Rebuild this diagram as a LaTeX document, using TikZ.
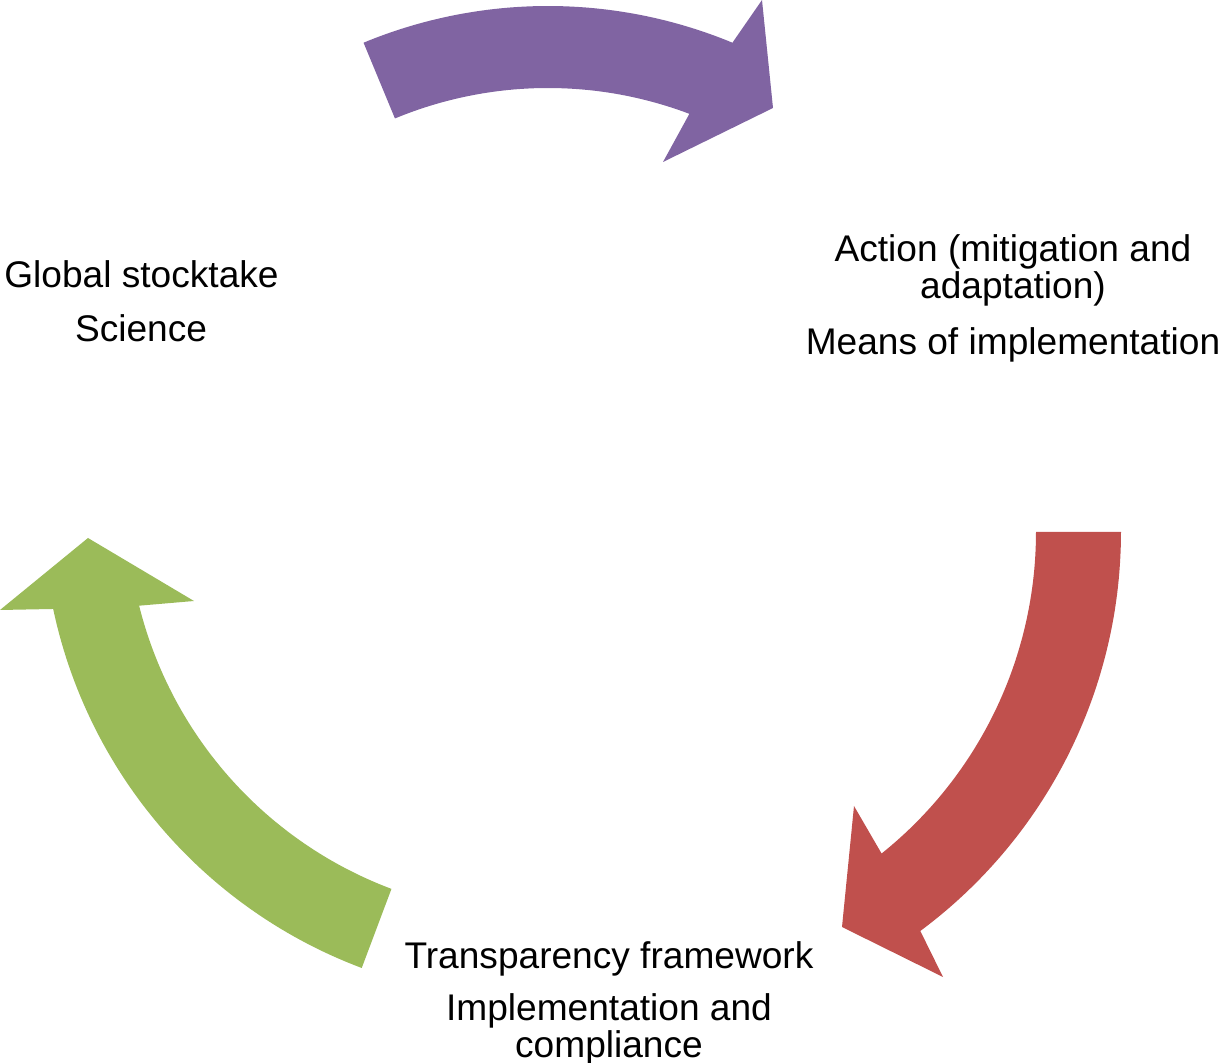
\documentclass[tikz,border=0pt]{standalone}
\usepackage{fontspec}
\setmainfont{Liberation Sans}
\definecolor{cpurple}{HTML}{8064A2}
\definecolor{cred}{HTML}{C0504D}
\definecolor{cgreen}{HTML}{9BBB59}
\begin{document}
\begin{tikzpicture}[x=0.5pt,y=-0.5pt,
  lbl/.style={anchor=base, inner sep=0pt, font=\fontsize{18.55}{22}\selectfont},
  arrowshape/.style={draw=none}]
\useasboundingbox (0,0) rectangle (1222,1063);
% purple arrow (centre 548,488)
\fill[cpurple,arrowshape]
  plot[domain=-112.5:-67.5, samples=60] ({548+482*cos(\x)},{488+482*sin(\x)})
  -- (762,0) -- (773,108) -- (663,162)
  -- plot[domain=-69.3:-112.5, samples=60] ({548+400*cos(\x)},{488+400*sin(\x)})
  -- cycle;
% red arrow (centre 624,532)
\fill[cred,arrowshape]
  plot[domain=0:53.4, samples=60] ({624+497*cos(\x)},{532+497*sin(\x)})
  -- (943,977) -- (842,927) -- (854,806)
  -- plot[domain=51.3:0, samples=60] ({624+412*cos(\x)},{532+412*sin(\x)})
  -- cycle;
% green arrow (centre 535,507)
\fill[cgreen,arrowshape]
  plot[domain=110.6:168.05, samples=60] ({535+492.5*cos(\x)},{507+492.5*sin(\x)})
  -- (0,610) -- (88,538) -- (194,601)
  -- plot[domain=166:110.6, samples=60] ({535+408*cos(\x)},{507+408*sin(\x)})
  -- cycle;
% texts
\node[lbl] (gs) at (141.5,288) {Global stocktake};
\node[lbl] (sci) at (141,342) {Science};
\node[lbl] (act1) at (1013,262) {Action (mitigation and};
\node[lbl] (act2) at (1013,299) {adaptation)};
\node[lbl] (moi) at (1013,355) {Means of implementation};
\node[lbl] (tf) at (609,968) {Transparency framework};
\node[lbl] (ic1) at (609,1020) {Implementation and};
\node[lbl] (ic2) at (609,1057) {compliance};
\end{tikzpicture}
\end{document}
